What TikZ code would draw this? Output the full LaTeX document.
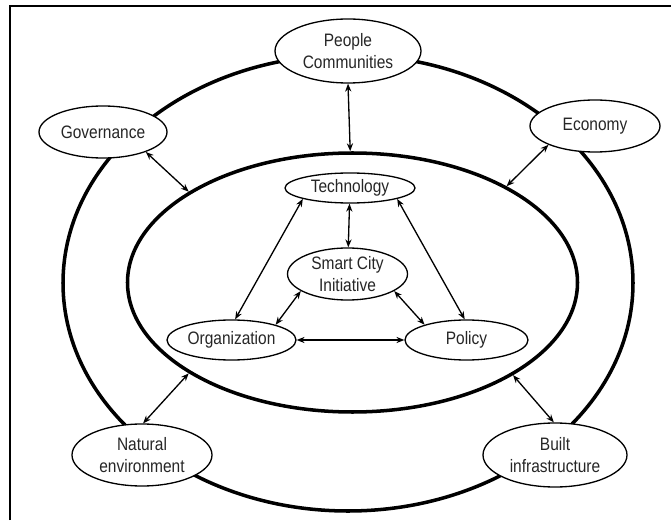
\documentclass[tikz,border=0pt]{standalone}
\usepackage{fontspec}
\setmainfont[FakeStretch=0.86]{Liberation Sans}
\usetikzlibrary{shapes.geometric}
\usetikzlibrary{arrows.meta}

\begin{document}
\begin{tikzpicture}[
  blob/.style={ellipse,draw,fill=white,line width=1.5pt,inner sep=0pt,align=center,
    font=\fontsize{20.5}{26}\selectfont,text=black!85},
  ring/.style={ellipse,draw,line width=4pt,inner sep=0pt},
  link/.style={{Stealth[length=9pt,width=7pt]}-{Stealth[length=9pt,width=7pt]},line width=1.5pt}
]
\useasboundingbox (0,0) rectangle (26.84,20.8);
\draw[line width=2.4pt] (0.4,0) -- (0.4,20.56) -- (26.84,20.56);

\node[ring,minimum width=22.8cm,minimum height=18.24cm] (outer) at (13.92,9.48) {};
\node[ring,minimum width=18cm,minimum height=10.36cm] (inner) at (14.1,9.5) {};

\node[blob,minimum width=5.84cm,minimum height=2.56cm] (people) at (13.92,18.76) {People\\Communities};
\node[blob,minimum width=5.12cm,minimum height=2.08cm] (gov) at (4.12,15.52) {Governance};
\node[blob,minimum width=5.2cm,minimum height=2.08cm] (econ) at (23.8,15.76) {Economy};
\node[blob,minimum width=5.6cm,minimum height=2.48cm] (nat) at (5.68,2.6) {Natural\\environment};
\node[blob,minimum width=5.76cm,minimum height=2.56cm] (built) at (22.2,2.6) {Built\\infrastructure};

\node[blob,minimum width=5.2cm,minimum height=1.2cm] (tech) at (14.0,13.28) {Technology};
\node[blob,minimum width=4.8cm,minimum height=2.08cm] (smart) at (13.9,9.84) {Smart City\\Initiative};
\node[blob,minimum width=5.16cm,minimum height=1.6cm] (org) at (9.26,7.2) {Organization};
\node[blob,minimum width=4.92cm,minimum height=1.6cm] (policy) at (18.66,7.2) {Policy};

\draw[link] (people.south) -- (inner.91);
\draw[link] (gov.-25) -- (inner.151);
\draw[link] (econ.202) -- (inner.32);
\draw[link] (nat.88) -- (inner.209);
\draw[link] (built.92) -- (inner.-30);

\draw[link] (tech) -- (smart);
\draw[link] (tech.193) -- (org.80);
\draw[link] (tech.-13) -- (policy.95);
\draw[link] (smart.200) -- (org.19);
\draw[link] (smart.-20) -- (policy.160);
\draw[link] (org) -- (policy);

\end{tikzpicture}
\end{document}
